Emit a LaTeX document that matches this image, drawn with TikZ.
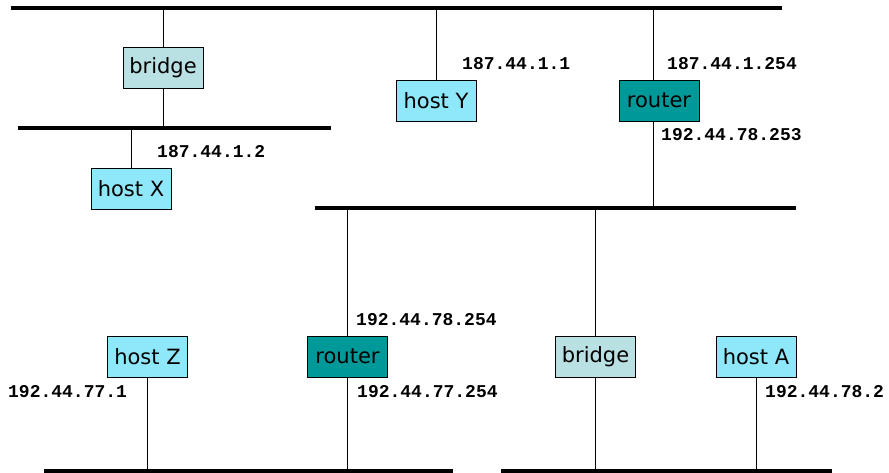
\documentclass[tikz,border=0pt]{standalone}
\usepackage{fontspec}
\setmainfont{DejaVu Sans}
\newfontfamily\addrfont{Liberation Mono}
\usetikzlibrary{calc}

\definecolor{hostcol}{RGB}{142,232,250}
\definecolor{bridgecol}{RGB}{185,224,226}
\definecolor{routercol}{RGB}{0,153,153}

\begin{document}
\begin{tikzpicture}[x=1pt,y=-1pt]
\tikzstyle{box} = [draw, line width=0.9pt, minimum width=80pt, minimum height=41pt, inner sep=0pt, font=\fontsize{21}{21}\selectfont]
\tikzstyle{hostbox} = [box, fill=hostcol]
\tikzstyle{bridgebox} = [box, fill=bridgecol]
\tikzstyle{routerbox} = [box, fill=routercol]
\tikzstyle{addr} = [anchor=west, inner sep=0pt, font=\addrfont\bfseries\fontsize{18}{18}\selectfont]
\tikzstyle{bus} = [line width=3.3pt]
\tikzstyle{wire} = [line width=0.9pt]
\useasboundingbox (0,0) rectangle (889,472);

% the lan segments
\coordinate (top west) at (11,8);      \coordinate (top east) at (782,8);
\coordinate (left west) at (18,128);   \coordinate (left east) at (331,128);
\coordinate (mid west) at (315,208);   \coordinate (mid east) at (796,208);
\coordinate (z west) at (44,471);      \coordinate (z east) at (453,471);
\coordinate (a west) at (501,471);     \coordinate (a east) at (832,471);
\draw[bus] (top west) -- (top east);
\draw[bus] (left west) -- (left east);
\draw[bus] (mid west) -- (mid east);
\draw[bus] (z west) -- (z east);
\draw[bus] (a west) -- (a east);

% devices
\node[bridgebox] (bridge1) at (163,68) {bridge};
\node[hostbox] (hostX) at (131,188.5) {host X};
\node[hostbox] (hostY) at (436,100.5) {host Y};
\node[routerbox] (router1) at (659,100.5) {router};
\node[hostbox] (hostZ) at (147.5,356.5) {host Z};
\node[routerbox] (router2) at (347.5,356.5) {router};
\node[bridgebox] (bridge2) at (595.5,356.5) {bridge};
\node[hostbox] (hostA) at (756,356.5) {host A};

% taps
\draw[wire] (bridge1.north) -- (bridge1.north |- top west);
\draw[wire] (bridge1.south) -- (bridge1.south |- left west);
\draw[wire] (hostX.north) -- (hostX.north |- left west);
\draw[wire] (hostY.north) -- (hostY.north |- top west);
\draw[wire] ([xshift=-6pt]router1.north) -- ($(router1.north |- top west)+(-6,0)$);
\draw[wire] ([xshift=-6pt]router1.south) -- ($(router1.south |- mid west)+(-6,0)$);
\draw[wire] (router2.north) -- (router2.north |- mid west);
\draw[wire] (router2.south) -- (router2.south |- z west);
\draw[wire] (bridge2.north) -- (bridge2.north |- mid west);
\draw[wire] (bridge2.south) -- (bridge2.south |- a west);
\draw[wire] (hostZ.south) -- (hostZ.south |- z west);
\draw[wire] (hostA.south) -- (hostA.south |- a west);

% addresses
\node[addr] (aY) at (462,64) {187.44.1.1};
\node[addr] (aR1up) at (667,64) {187.44.1.254};
\node[addr] (aR1dn) at (661,135) {192.44.78.253};
\node[addr] (aX) at (157,152) {187.44.1.2};
\node[addr] (aR2up) at (356,320) {192.44.78.254};
\node[addr] (aR2dn) at (357,392) {192.44.77.254};
\node[addr] (aZ) at (8,392) {192.44.77.1};
\node[addr] (aA) at (765,392) {192.44.78.2};
\end{tikzpicture}
\end{document}
